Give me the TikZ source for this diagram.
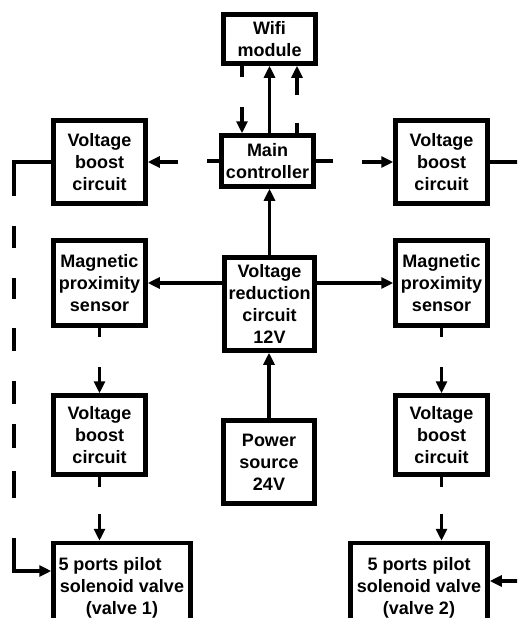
\documentclass[tikz,border=0pt]{standalone}
\usepackage{fontspec}
\setmainfont{Liberation Sans}
\usetikzlibrary{arrows.meta}
\begin{document}
\begin{tikzpicture}[x=1pt,y=-1pt,
  box/.style={draw,line width=4.5pt,fill=white,align=center,
    font=\bfseries\fontsize{18}{22}\selectfont,inner sep=0pt},
  conn/.style={line width=3.3pt},
  arr/.style={conn,-{Triangle[length=12pt,width=11pt]}}]
\clip (0,0) rectangle (517,618);
% boxes
\node[box,minimum width=92pt,minimum height=49pt] (wifi) at (269.5,39) {Wifi\\module};
\node[box,minimum width=92pt,minimum height=51pt] (main) at (267.5,161) {Main\\controller};
\node[box,minimum width=92pt,minimum height=83pt] (vbA) at (99.5,162) {Voltage\\boost\\circuit};
\node[box,minimum width=92pt,minimum height=83pt] (vbB) at (441.5,162) {Voltage\\boost\\circuit};
\node[box,minimum width=92pt,minimum height=85pt] (mpsA) at (99.5,283) {Magnetic\\proximity\\sensor};
\node[box,minimum width=92pt,minimum height=85pt] (mpsB) at (441.5,283) {Magnetic\\proximity\\sensor};
\node[box,minimum width=90pt,minimum height=93pt] (vred) at (269.5,304) {Voltage\\reduction\\circuit\\12V};
\node[box,minimum width=91pt,minimum height=83pt] (pow) at (269,462) {Power\\source\\24V};
\node[box,minimum width=92pt,minimum height=79pt] (vbC) at (99.5,435) {Voltage\\boost\\circuit};
\node[box,minimum width=92pt,minimum height=79pt] (vbD) at (441.5,435) {Voltage\\boost\\circuit};
\node[box,minimum width=137pt,minimum height=90pt] (valA) at (122,588) {\hspace*{-24pt}5 ports pilot\\solenoid valve\\(valve 1)};
\node[box,minimum width=137pt,minimum height=90pt] (valB) at (419,588) {5 ports pilot\\solenoid valve\\(valve 2)};
% wifi <-> main
\coordinate (w1) at (242,77);
\coordinate (w2) at (242,107);
\coordinate (w3) at (297,95);
\coordinate (w4) at (297,123);
\draw[conn] (wifi.south -| w1) -- (w1);
\draw[arr] (w2) -- (main.north -| w2);
\draw[arr] (w3) -- (wifi.south -| w3);
\draw[conn] (main.north -| w4) -- (w4);
\draw[arr] (wifi.south |- main.north) -- (wifi.south);
% main -> top boost circuits
\coordinate (l1) at (207,161);
\coordinate (l2) at (178,162);
\coordinate (r1) at (333,161);
\coordinate (r2) at (362,162);
\coordinate (r3) at (530,162);
\draw[conn] (main.west) -- (l1);
\draw[arr] (l2) -- (vbA.east);
\draw[conn] (main.east) -- (r1);
\draw[arr] (r2) -- (vbB.west);
\draw[conn] (vbB.east) -- (r3);
% left broken line to valve 1
\coordinate (c1) at (14,162);
\coordinate (c2) at (14,571);
\draw[arr,line join=miter,dash pattern=on 71pt off 30pt on 22pt off 30pt on 21pt off 29pt on 23pt off 30pt on 23pt off 20pt on 24pt off 23pt on 27pt off 40pt on 400pt]
  (vbA.west) -- (c1) -- (c2) -- (c2 -| valA.west);
% right line into valve 2
\coordinate (b5) at (530,581);
\draw[arr] (b5) -- (valB.east |- b5);
% power chain
\draw[arr] (vred.north) -- (vred.north |- main.south);
\draw[arr] (pow.north) -- (pow.north |- vred.south);
\draw[arr] (vred.west |- mpsA.east) -- (mpsA.east);
\draw[arr] (vred.east |- mpsB.west) -- (mpsB.west);
% left column
\coordinate (a1) at (99.5,337);
\coordinate (a2) at (99.5,367);
\coordinate (a3) at (99.5,487);
\coordinate (a4) at (99.5,514);
\draw[conn] (mpsA.south) -- (a1);
\draw[arr] (a2) -- (vbC.north);
\draw[conn] (vbC.south) -- (a3);
\draw[arr] (a4) -- (valA.north -| a4);
% right column
\coordinate (d1) at (441.5,337);
\coordinate (d2) at (441.5,367);
\coordinate (d3) at (441.5,487);
\coordinate (d4) at (441.5,514);
\draw[conn] (mpsB.south) -- (d1);
\draw[arr] (d2) -- (vbD.north);
\draw[conn] (vbD.south) -- (d3);
\draw[arr] (d4) -- (valB.north -| d4);
\end{tikzpicture}
\end{document}
